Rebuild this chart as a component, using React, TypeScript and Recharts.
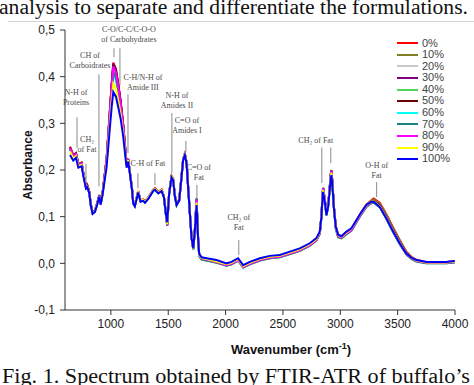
import { LineChart, Line, XAxis, YAxis, Legend, ReferenceLine, ReferenceDot } from 'recharts'

// wavenumber grid (cm-1) shared by all spectra
const wavenumbers = [
  644, 672, 696, 716, 745, 759, 783, 794, 812, 824, 841, 861, 881, 899, 911, 928,
  963, 992, 1007, 1021, 1044, 1064, 1085, 1108, 1125, 1137, 1151,
  1166, 1184, 1195, 1209, 1238, 1259, 1282, 1297, 1326, 1369, 1384, 1413, 1442, 1462, 1480, 1491,
  1508, 1529, 1543, 1558, 1573, 1596, 1616, 1630, 1645, 1660, 1674, 1689, 1703, 1718, 1732,
  1747,
  1761, 1770, 1791, 1834, 1921, 2008, 2052, 2109, 2153, 2211, 2298, 2386, 2473, 2560, 2647, 2734, 2792, 2821,
  2836, 2844, 2850, 2865, 2879, 2894, 2908, 2917, 2923, 2932, 2943,
  2961, 2981, 3010, 3054, 3097, 3141, 3184, 3228, 3271, 3291, 3344, 3402, 3460, 3518,
  3576, 3620, 3663, 3750, 3837, 3924, 3997,
]

const abs0 = [
  0.250, 0.232, 0.236, 0.213, 0.216, 0.195, 0.165, 0.169, 0.154, 0.128, 0.109, 0.113, 0.129, 0.147, 0.128, 0.152,
  0.226, 0.331, 0.385, 0.430, 0.417, 0.385, 0.348, 0.296, 0.248, 0.214, 0.224,
  0.195, 0.161, 0.131, 0.125, 0.155, 0.135, 0.137, 0.133, 0.141, 0.158, 0.161, 0.153, 0.158, 0.145, 0.107, 0.084,
  0.152, 0.187, 0.181, 0.146, 0.128, 0.138, 0.188, 0.224, 0.235, 0.217, 0.163, 0.108, 0.057, 0.032, 0.072,
  0.138,
  0.052, 0.020, 0.012, 0.010, 0.005, -0.002, 0.001, 0.009, -0.006, 0.001, 0.009, 0.014, 0.016, 0.023, 0.030, 0.041, 0.052, 0.066,
  0.103, 0.142, 0.162, 0.138, 0.106, 0.125, 0.164, 0.192, 0.200, 0.172, 0.126,
  0.080, 0.062, 0.058, 0.067, 0.074, 0.092, 0.110, 0.126, 0.135, 0.139, 0.130, 0.105, 0.077, 0.050,
  0.025, 0.014, 0.008, 0.003, 0.003, 0.003, 0.005,
]
const abs10 = [
  0.248, 0.230, 0.235, 0.212, 0.215, 0.194, 0.164, 0.166, 0.153, 0.128, 0.109, 0.113, 0.129, 0.146, 0.128, 0.151,
  0.224, 0.327, 0.381, 0.424, 0.411, 0.381, 0.344, 0.294, 0.247, 0.213, 0.223,
  0.194, 0.160, 0.130, 0.124, 0.154, 0.134, 0.136, 0.132, 0.140, 0.157, 0.160, 0.152, 0.157, 0.144, 0.106, 0.083,
  0.151, 0.186, 0.180, 0.145, 0.127, 0.137, 0.187, 0.223, 0.234, 0.216, 0.162, 0.107, 0.056, 0.031, 0.071,
  0.134,
  0.051, 0.019, 0.011, 0.009, 0.004, -0.003, 0.000, 0.008, -0.007, 0.000, 0.008, 0.013, 0.015, 0.022, 0.029, 0.040, 0.051, 0.065,
  0.102, 0.140, 0.160, 0.137, 0.105, 0.124, 0.162, 0.190, 0.198, 0.170, 0.125,
  0.079, 0.061, 0.057, 0.066, 0.073, 0.091, 0.109, 0.125, 0.134, 0.137, 0.128, 0.104, 0.076, 0.049,
  0.024, 0.013, 0.007, 0.002, 0.002, 0.002, 0.004,
]
const abs20 = [
  0.246, 0.229, 0.234, 0.211, 0.214, 0.193, 0.163, 0.165, 0.152, 0.127, 0.108, 0.112, 0.128, 0.145, 0.127, 0.150,
  0.222, 0.324, 0.376, 0.418, 0.405, 0.376, 0.341, 0.291, 0.245, 0.212, 0.222,
  0.193, 0.159, 0.129, 0.123, 0.153, 0.133, 0.135, 0.131, 0.139, 0.156, 0.159, 0.151, 0.156, 0.143, 0.104, 0.080,
  0.149, 0.184, 0.179, 0.144, 0.125, 0.135, 0.185, 0.222, 0.233, 0.215, 0.161, 0.106, 0.055, 0.030, 0.070,
  0.132,
  0.049, 0.017, 0.009, 0.007, 0.002, -0.005, -0.002, 0.006, -0.009, -0.002, 0.006, 0.011, 0.013, 0.020, 0.027, 0.038, 0.049, 0.063,
  0.101, 0.139, 0.158, 0.135, 0.104, 0.123, 0.161, 0.188, 0.196, 0.168, 0.123,
  0.076, 0.058, 0.055, 0.064, 0.071, 0.089, 0.107, 0.123, 0.131, 0.133, 0.124, 0.099, 0.071, 0.045,
  0.021, 0.011, 0.005, 0.001, 0.001, 0.001, 0.003,
]
const abs30 = [
  0.249, 0.231, 0.236, 0.212, 0.215, 0.194, 0.164, 0.167, 0.153, 0.128, 0.109, 0.113, 0.129, 0.146, 0.128, 0.151,
  0.225, 0.330, 0.384, 0.428, 0.415, 0.384, 0.347, 0.295, 0.247, 0.214, 0.224,
  0.195, 0.161, 0.130, 0.124, 0.154, 0.134, 0.136, 0.132, 0.140, 0.157, 0.160, 0.152, 0.157, 0.144, 0.106, 0.084,
  0.151, 0.186, 0.180, 0.145, 0.127, 0.137, 0.187, 0.223, 0.235, 0.216, 0.162, 0.107, 0.056, 0.031, 0.071,
  0.136,
  0.051, 0.019, 0.011, 0.009, 0.004, -0.003, 0.000, 0.008, -0.007, 0.000, 0.008, 0.013, 0.015, 0.022, 0.029, 0.040, 0.051, 0.065,
  0.102, 0.141, 0.161, 0.137, 0.105, 0.124, 0.163, 0.191, 0.199, 0.171, 0.125,
  0.078, 0.060, 0.057, 0.066, 0.073, 0.091, 0.108, 0.124, 0.132, 0.134, 0.125, 0.100, 0.072, 0.046,
  0.022, 0.012, 0.006, 0.002, 0.002, 0.002, 0.004,
]
const abs40 = [
  0.246, 0.228, 0.233, 0.211, 0.213, 0.193, 0.163, 0.165, 0.152, 0.127, 0.108, 0.112, 0.128, 0.145, 0.127, 0.150,
  0.221, 0.321, 0.373, 0.414, 0.402, 0.373, 0.338, 0.290, 0.244, 0.212, 0.222,
  0.193, 0.159, 0.129, 0.123, 0.153, 0.133, 0.135, 0.131, 0.139, 0.156, 0.159, 0.151, 0.156, 0.143, 0.104, 0.081,
  0.149, 0.184, 0.179, 0.144, 0.125, 0.135, 0.185, 0.222, 0.233, 0.215, 0.161, 0.106, 0.055, 0.030, 0.070,
  0.133,
  0.045, 0.015, 0.008, 0.006, 0.002, -0.005, -0.002, 0.006, -0.009, -0.002, 0.006, 0.011, 0.013, 0.020, 0.027, 0.038, 0.049, 0.063,
  0.098, 0.137, 0.157, 0.133, 0.102, 0.121, 0.160, 0.187, 0.195, 0.167, 0.121,
  0.074, 0.056, 0.053, 0.062, 0.070, 0.088, 0.106, 0.122, 0.130, 0.131, 0.121, 0.096, 0.068, 0.042,
  0.019, 0.009, 0.004, 0.000, 0.000, 0.000, 0.002,
]
const abs50 = [
  0.247, 0.230, 0.235, 0.212, 0.214, 0.194, 0.164, 0.166, 0.152, 0.127, 0.108, 0.112, 0.128, 0.146, 0.127, 0.151,
  0.224, 0.328, 0.382, 0.425, 0.412, 0.382, 0.345, 0.294, 0.246, 0.213, 0.223,
  0.194, 0.160, 0.130, 0.124, 0.154, 0.134, 0.136, 0.132, 0.140, 0.157, 0.160, 0.152, 0.157, 0.144, 0.105, 0.083,
  0.151, 0.186, 0.180, 0.145, 0.126, 0.136, 0.186, 0.223, 0.234, 0.216, 0.162, 0.107, 0.056, 0.031, 0.071,
  0.135,
  0.050, 0.018, 0.010, 0.008, 0.003, -0.004, -0.001, 0.007, -0.008, -0.001, 0.007, 0.012, 0.014, 0.021, 0.028, 0.039, 0.050, 0.064,
  0.101, 0.140, 0.160, 0.136, 0.104, 0.123, 0.162, 0.190, 0.198, 0.170, 0.124,
  0.077, 0.059, 0.056, 0.065, 0.072, 0.090, 0.107, 0.123, 0.131, 0.133, 0.123, 0.098, 0.070, 0.044,
  0.021, 0.011, 0.005, 0.001, 0.001, 0.001, 0.003,
]
const abs60 = [
  0.244, 0.227, 0.232, 0.210, 0.212, 0.192, 0.162, 0.164, 0.151, 0.126, 0.107, 0.111, 0.127, 0.145, 0.127, 0.150,
  0.218, 0.316, 0.365, 0.405, 0.393, 0.365, 0.333, 0.286, 0.242, 0.211, 0.222,
  0.193, 0.159, 0.129, 0.123, 0.153, 0.133, 0.135, 0.131, 0.139, 0.156, 0.159, 0.151, 0.156, 0.143, 0.104, 0.082,
  0.149, 0.184, 0.179, 0.144, 0.125, 0.135, 0.185, 0.222, 0.233, 0.215, 0.161, 0.106, 0.055, 0.031, 0.070,
  0.136,
  0.049, 0.017, 0.009, 0.007, 0.002, -0.004, -0.001, 0.007, -0.008, -0.001, 0.007, 0.012, 0.014, 0.021, 0.028, 0.039, 0.050, 0.064,
  0.101, 0.140, 0.160, 0.136, 0.104, 0.123, 0.162, 0.189, 0.197, 0.169, 0.123,
  0.075, 0.058, 0.055, 0.064, 0.071, 0.089, 0.106, 0.122, 0.130, 0.131, 0.121, 0.096, 0.068, 0.042,
  0.020, 0.011, 0.005, 0.001, 0.001, 0.001, 0.003,
]
const abs70 = [
  0.245, 0.228, 0.233, 0.210, 0.213, 0.192, 0.163, 0.165, 0.151, 0.126, 0.108, 0.112, 0.128, 0.145, 0.127, 0.150,
  0.220, 0.319, 0.369, 0.410, 0.398, 0.369, 0.336, 0.288, 0.243, 0.211, 0.222,
  0.193, 0.159, 0.129, 0.123, 0.153, 0.133, 0.135, 0.131, 0.139, 0.156, 0.159, 0.151, 0.156, 0.143, 0.103, 0.080,
  0.149, 0.184, 0.179, 0.144, 0.124, 0.135, 0.185, 0.222, 0.233, 0.215, 0.161, 0.106, 0.055, 0.030, 0.071,
  0.140,
  0.049, 0.016, 0.008, 0.006, 0.001, -0.005, -0.002, 0.006, -0.009, -0.002, 0.006, 0.011, 0.013, 0.020, 0.027, 0.038, 0.049, 0.063,
  0.102, 0.141, 0.162, 0.136, 0.104, 0.123, 0.163, 0.191, 0.199, 0.169, 0.123,
  0.073, 0.056, 0.054, 0.063, 0.070, 0.088, 0.105, 0.121, 0.129, 0.130, 0.120, 0.095, 0.067, 0.041,
  0.019, 0.010, 0.004, 0.000, 0.000, 0.000, 0.002,
]
const abs80 = [
  0.247, 0.229, 0.234, 0.211, 0.214, 0.193, 0.163, 0.165, 0.152, 0.127, 0.108, 0.112, 0.128, 0.145, 0.127, 0.150,
  0.223, 0.326, 0.379, 0.422, 0.409, 0.379, 0.343, 0.293, 0.246, 0.213, 0.223,
  0.194, 0.160, 0.130, 0.124, 0.154, 0.134, 0.136, 0.132, 0.140, 0.157, 0.160, 0.152, 0.157, 0.144, 0.105, 0.082,
  0.150, 0.185, 0.180, 0.145, 0.126, 0.136, 0.186, 0.223, 0.234, 0.216, 0.162, 0.107, 0.056, 0.031, 0.071,
  0.137,
  0.050, 0.018, 0.010, 0.008, 0.003, -0.004, -0.001, 0.007, -0.008, -0.001, 0.007, 0.012, 0.014, 0.021, 0.028, 0.039, 0.050, 0.064,
  0.102, 0.141, 0.161, 0.137, 0.105, 0.124, 0.163, 0.190, 0.198, 0.170, 0.124,
  0.076, 0.058, 0.055, 0.064, 0.071, 0.089, 0.107, 0.123, 0.131, 0.132, 0.122, 0.097, 0.069, 0.043,
  0.020, 0.011, 0.005, 0.001, 0.001, 0.001, 0.003,
]
const abs90 = [
  0.240, 0.225, 0.230, 0.208, 0.211, 0.191, 0.162, 0.164, 0.151, 0.126, 0.107, 0.111, 0.127, 0.144, 0.127, 0.149,
  0.212, 0.304, 0.349, 0.385, 0.374, 0.349, 0.321, 0.278, 0.236, 0.208, 0.221,
  0.194, 0.160, 0.130, 0.124, 0.154, 0.134, 0.136, 0.132, 0.140, 0.157, 0.160, 0.152, 0.157, 0.144, 0.105, 0.084,
  0.151, 0.186, 0.180, 0.145, 0.126, 0.136, 0.186, 0.223, 0.234, 0.216, 0.162, 0.107, 0.056, 0.031, 0.071,
  0.130,
  0.050, 0.018, 0.011, 0.009, 0.004, -0.002, 0.001, 0.009, -0.006, 0.001, 0.009, 0.014, 0.016, 0.023, 0.030, 0.041, 0.052, 0.066,
  0.101, 0.138, 0.157, 0.134, 0.104, 0.123, 0.160, 0.186, 0.194, 0.167, 0.122,
  0.078, 0.060, 0.057, 0.066, 0.074, 0.092, 0.109, 0.124, 0.132, 0.133, 0.122, 0.097, 0.069, 0.044,
  0.021, 0.012, 0.006, 0.002, 0.002, 0.002, 0.004,
]
const abs100 = [
  0.232, 0.220, 0.226, 0.205, 0.208, 0.188, 0.160, 0.163, 0.150, 0.125, 0.106, 0.110, 0.126, 0.143, 0.126, 0.148,
  0.207, 0.293, 0.335, 0.367, 0.357, 0.335, 0.310, 0.271, 0.232, 0.205, 0.218,
  0.192, 0.158, 0.128, 0.122, 0.152, 0.132, 0.134, 0.130, 0.138, 0.155, 0.158, 0.150, 0.155, 0.142, 0.105, 0.088,
  0.150, 0.184, 0.178, 0.143, 0.125, 0.135, 0.185, 0.221, 0.232, 0.214, 0.160, 0.105, 0.055, 0.032, 0.070,
  0.125,
  0.050, 0.020, 0.013, 0.011, 0.007, 0.000, 0.003, 0.011, -0.004, 0.003, 0.011, 0.016, 0.018, 0.025, 0.032, 0.043, 0.054, 0.068,
  0.100, 0.135, 0.153, 0.132, 0.103, 0.121, 0.157, 0.182, 0.189, 0.164, 0.121,
  0.078, 0.061, 0.058, 0.068, 0.075, 0.093, 0.110, 0.125, 0.132, 0.132, 0.121, 0.096, 0.068, 0.043,
  0.021, 0.012, 0.007, 0.003, 0.003, 0.003, 0.005,
]

const seriesNames = ['0%', '10%', '20%', '30%', '40%', '50%', '60%', '70%', '80%', '90%', '100%']
const seriesColors = [
  '#ff0000', '#808020', '#c8c8c8', '#800080', '#55d455', '#6b0000',
  '#00ffff', '#1a8080', '#ff00ff', '#ffff00', '#0000ff',
]
const seriesValues = [abs0, abs10, abs20, abs30, abs40, abs50, abs60, abs70, abs80, abs90, abs100]

const xTicks = [1000, 1500, 2000, 2500, 3000, 3500, 4000]
const yTicks = [-0.1, 0, 0.1, 0.2, 0.3, 0.4, 0.5]

// band assignments (text anchored in data units)
const bandLabels = [
  { wn: 1157, abs: 0.495, text: ['C-O/C-C/C-O-O', 'of Carbohydrates'] },
  { wn: 818, abs: 0.44, text: ['CH of', 'Carboidrates'] },
  { wn: 696, abs: 0.36, text: ['N-H of', 'Proteins'] },
  { wn: 792, abs: 0.26, text: ['CH₂', 'of Fat'] },
  { wn: 1279, abs: 0.392, text: ['C-H/N-H of', 'Amide III'] },
  { wn: 1576, abs: 0.354, text: ['N-H of', 'Amides II'] },
  { wn: 1663, abs: 0.3, text: ['C=O of', 'Amides I'] },
  { wn: 1323, abs: 0.208, text: ['C-H of Fat'] },
  { wn: 1767, abs: 0.2, text: ['C=O of', 'Fat'] },
  { wn: 2115, abs: 0.093, text: ['CH₂ of', 'Fat'] },
  { wn: 2786, abs: 0.258, text: ['CH₂ of Fat'] },
  { wn: 3317, abs: 0.204, text: ['O-H of', 'Fat'] },
]
const bandPointers = [
  { wn: 1027, top: 0.461, bottom: 0.442 },
  { wn: 1079, top: 0.461, bottom: 0.382 },
  { wn: 896, top: 0.405, bottom: 0.165 },
  { wn: 705, top: 0.313, bottom: 0.247 },
  { wn: 783, top: 0.213, bottom: 0.172 },
  { wn: 1149, top: 0.362, bottom: 0.236 },
  { wn: 1532, top: 0.322, bottom: 0.193 },
  { wn: 1654, top: 0.262, bottom: 0.24 },
  { wn: 1236, top: 0.193, bottom: 0.161 },
  { wn: 1384, top: 0.193, bottom: 0.168 },
  { wn: 1750, top: 0.168, bottom: 0.136 },
  { wn: 2115, top: 0.05, bottom: 0.018 },
  { wn: 2839, top: 0.248, bottom: 0.172 },
  { wn: 2917, top: 0.248, bottom: 0.215 },
  { wn: 3317, top: 0.174, bottom: 0.142 },
]

const chartData = wavenumbers.map((wn, i) => {
  const row: Record<string, number> = { wn }
  seriesNames.forEach((name, k) => {
    row[name] = seriesValues[k][i]
  })
  return row
})

const SANS = "'Liberation Sans', Arial, sans-serif"
const SERIF = "'Liberation Serif', 'Times New Roman', serif"

const bandLabel = (lines: string[]) => (props: any) => {
  const { x, y } = props.viewBox
  return (
    <text x={x} y={y} textAnchor="middle" fontFamily={SERIF} fontSize={8} fill="#4a4a4a">
      {lines.map((line, i) => (
        <tspan key={i} x={x} dy={i === 0 ? 0 : 10}>
          {line}
        </tspan>
      ))}
    </text>
  )
}

const xAxisTitle = (props: any) => {
  const { x, y, width } = props.viewBox
  return (
    <text x={x + width / 2 + 31} y={y + 44} textAnchor="middle" fontFamily={SANS} fontSize={13} fontWeight="bold" fill="#111">
      Wavenumber (cm
      <tspan dy={-5} fontSize={9}>-1</tspan>
      <tspan dy={5}>)</tspan>
    </text>
  )
}

const yAxisTitle = (props: any) => {
  const { x, y, height } = props.viewBox
  const cx = x + 27
  const cy = y + height / 2 - 5
  return (
    <text x={cx} y={cy} transform={`rotate(-90, ${cx}, ${cy})`} textAnchor="middle" fontFamily={SANS} fontSize={12} fontWeight="bold" fill="#111">
      Absorbance
    </text>
  )
}

const renderLegend = ({ payload }: { payload?: { value: string; color: string }[] }) => {
  if (!payload) return null
  // keep the legend in concentration order
  const items = [...payload].sort((a, b) => seriesNames.indexOf(a.value) - seriesNames.indexOf(b.value))
  return (
    <ul style={{ listStyle: 'none', margin: 0, padding: 0 }}>
      {items.map((entry, index) => (
        <li key={index} style={{ display: 'flex', alignItems: 'center', height: 11.6 }}>
          <span style={{ width: 21, height: 2, background: entry.color, marginRight: 4 }} />
          <span style={{ fontFamily: SANS, fontSize: 11, color: '#444', lineHeight: '11.6px' }}>{entry.value}</span>
        </li>
      ))}
    </ul>
  )
}

export default function App() {
  return (
    <div style={{ position: 'absolute', left: 0, top: 0, width: 474, height: 385, overflow: 'hidden', background: '#fff' }}>
      <LineChart width={474} height={385} data={chartData} margin={{ top: 30, right: 19, bottom: 45, left: 5 }}>
        <XAxis
          dataKey="wn"
          type="number"
          domain={[600, 4000]}
          ticks={xTicks}
          tickSize={5}
          tickMargin={4}
          stroke="#333"
          tick={{ fill: '#222', fontSize: 12, fontFamily: SANS }}
          height={30}
          label={xAxisTitle}
        />
        <YAxis
          type="number"
          domain={[-0.1, 0.5]}
          ticks={yTicks}
          tickSize={5}
          tickMargin={5}
          stroke="#333"
          tick={{ fill: '#222', fontSize: 12, fontFamily: SANS }}
          tickFormatter={(v: number) => v.toFixed(1).replace('.', ',')}
          width={60}
          label={yAxisTitle}
        />
        {bandPointers.map((p, i) => (
          <ReferenceLine
            key={`ptr-${i}`}
            segment={[{ x: p.wn, y: p.top }, { x: p.wn, y: p.bottom }]}
            stroke="#8a8a8a"
            strokeWidth={1}
            ifOverflow="visible"
          />
        ))}
        {seriesNames.map((name, k) => (
          <Line
            key={name}
            dataKey={name}
            name={name}
            type="linear"
            stroke={seriesColors[k]}
            strokeWidth={2}
            dot={false}
            isAnimationActive={false}
          />
        ))}
        {bandLabels.map((b, i) => (
          <ReferenceDot
            key={`lbl-${i}`}
            x={b.wn}
            y={b.abs}
            r={0}
            fill="none"
            stroke="none"
            ifOverflow="visible"
            label={bandLabel(b.text)}
          />
        ))}
        <Legend
          layout="vertical"
          align="center"
          verticalAlign="middle"
          content={renderLegend}
          wrapperStyle={{ top: 37.5, left: 397, width: 70 }}
        />
      </LineChart>
      <svg width={474} height={385} style={{ position: 'absolute', left: 0, top: 0, pointerEvents: 'none' }}>
        <text x={-1} y={14} fontFamily={SERIF} fontSize={20} fill="#111" textLength={469} lengthAdjust="spacingAndGlyphs">
          analysis to separate and differentiate the formulations.
        </text>
        <line x1={8} x2={474} y1={21.5} y2={21.5} stroke="#d4d4d4" strokeWidth={1} />
        <text x={2} y={383} fontFamily={SERIF} fontSize={20} fill="#111" textLength={468} lengthAdjust="spacingAndGlyphs">
          Fig. 1. Spectrum obtained by FTIR-ATR of buffalo’s
        </text>
      </svg>
    </div>
  )
}
